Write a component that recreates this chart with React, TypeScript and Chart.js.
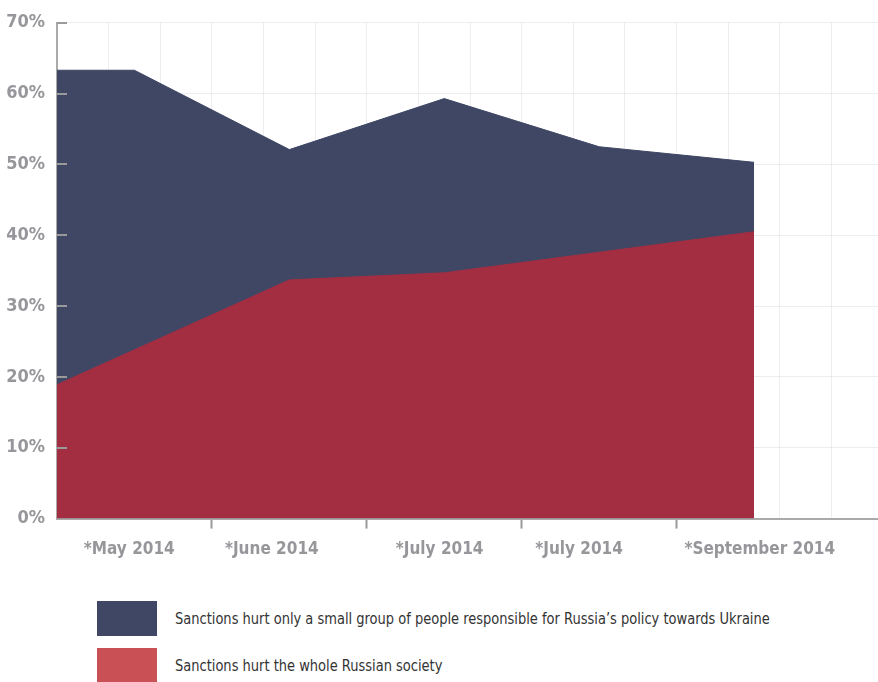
import React, { useEffect, useRef } from "react";
import { Chart, registerables } from "chart.js";

Chart.register(...registerables);

// X positions are in grid units (one vertical grid line per unit)
const smallGroupX = [0, 1.5, 4.5, 7.5, 10.5, 13.5];
const smallGroupY = [63.3, 63.3, 52.1, 59.3, 52.5, 50.3];
const wholeSocietyX = [0, 4.5, 7.5, 10.5, 13.5];
const wholeSocietyY = [18.9, 33.7, 34.7, 37.6, 40.5];

const xLabelPositions = [1.4, 4.16, 7.41, 10.11, 13.61];
const xLabels = ["*May 2014", "*June 2014", "*July 2014", "*July 2014", "*September 2014"];
const majorTicks = [3, 6, 9, 12];
const yTicks = [0, 10, 20, 30, 40, 50, 60, 70];

const seriesNames = [
  "Sanctions hurt only a small group of people responsible for Russia\u2019s policy towards Ukraine",
  "Sanctions hurt the whole Russian society",
];

const BLUE = "#3f4764";
const RED = "#a32e42";
const LEGEND_RED = "#c95055";
const GRID = "rgba(203,203,210,0.33)";
const AXIS = "#aaaaaa";
const LABEL = "#96969b";
const FONT = "'DejaVu Sans Condensed', 'Liberation Sans Narrow', sans-serif";

const innerTicks = {
  id: "innerTicks",
  afterDraw(chart: any) {
    const y = chart.scales.y;
    const ctx = chart.ctx;
    ctx.save();
    ctx.strokeStyle = "#9a9a9a";
    ctx.lineWidth = 2;
    y.ticks.forEach((t: any, i: number) => {
      if (t.value === 0) return;
      const py = Math.round(y.getPixelForTick(i));
      ctx.beginPath();
      ctx.moveTo(chart.chartArea.left, py);
      ctx.lineTo(chart.chartArea.left + 10, py);
      ctx.stroke();
    });
    ctx.restore();
  },
};

export default function App() {
  const ref = useRef<HTMLCanvasElement>(null);

  useEffect(() => {
    document.body.style.margin = "0";
    const chart = new Chart(ref.current!, {
      type: "line",
      data: {
        datasets: [
          {
            label: seriesNames[1],
            data: wholeSocietyX.map((x, i) => ({ x, y: wholeSocietyY[i] })),
            backgroundColor: RED,
            borderColor: RED,
            borderWidth: 1,
            fill: "origin",
            pointRadius: 0,
            tension: 0,
          },
          {
            label: seriesNames[0],
            data: smallGroupX.map((x, i) => ({ x, y: smallGroupY[i] })),
            backgroundColor: BLUE,
            borderColor: BLUE,
            borderWidth: 1,
            fill: "origin",
            pointRadius: 0,
            tension: 0,
          },
        ],
      },
      options: {
        animation: false,
        responsive: false,
        maintainAspectRatio: false,
        layout: { padding: { top: 15, right: 0, bottom: 19, left: 0 } },
        plugins: { legend: { display: false }, tooltip: { enabled: false } },
        scales: {
          x: {
            type: "linear",
            min: 0,
            max: 15.9,
            z: 1,
            afterBuildTicks: (scale: any) => {
              const vals: number[] = [];
              for (let i = 0; i <= 15; i++) vals.push(i);
              xLabelPositions.forEach((p) => vals.push(p));
              vals.sort((a, b) => a - b);
              scale.ticks = vals.map((v) => ({ value: v }));
            },
            ticks: {
              autoSkip: false,
              maxRotation: 0,
              minRotation: 0,
              padding: 11,
              color: LABEL,
              font: { family: FONT, size: 17, weight: "bold" },
              callback: (v: any) => {
                const idx = xLabelPositions.indexOf(Number(v));
                return idx >= 0 ? xLabels[idx] : "";
              },
            },
            grid: {
              color: (ctx: any) => {
                const v = ctx.tick ? ctx.tick.value : -1;
                return Number.isInteger(v) && v > 0 ? GRID : "rgba(0,0,0,0)";
              },
              tickColor: (ctx: any) => {
                const v = ctx.tick ? ctx.tick.value : -1;
                return majorTicks.includes(v) ? "#9a9a9a" : "rgba(0,0,0,0)";
              },
              tickLength: 10,
              tickWidth: 2,
              lineWidth: 1,
            },
            border: { color: AXIS, width: 2 },
          },
          y: {
            min: 0,
            max: 70,
            z: 1,
            afterBuildTicks: (scale: any) => {
              scale.ticks = yTicks.map((v) => ({ value: v }));
            },
            afterFit: (scale: any) => {
              scale.width = 57;
            },
            ticks: {
              padding: 12,
              color: LABEL,
              font: { family: FONT, size: 18, weight: "bold" },
              callback: (v: any) => v + "%",
            },
            grid: {
              color: (ctx: any) => (ctx.tick && ctx.tick.value > 0 ? GRID : "rgba(0,0,0,0)"),
              drawTicks: false,
            },
            border: { color: AXIS, width: 2 },
          },
        },
      },
      plugins: [innerTicks],
    });
    return () => chart.destroy();
  }, []);

  const legendColors = [BLUE, LEGEND_RED];

  return (
    <div style={{ width: 878, height: 682, position: "relative", background: "#fff" }}>
      <div style={{ width: 878, height: 590 }}>
        <canvas ref={ref} width={878} height={590} style={{ display: "block" }} />
      </div>
      <div style={{ paddingTop: 11 }}>
        {seriesNames.map((name, i) => (
          <div
            key={i}
            style={{ display: "flex", alignItems: "center", height: 35, marginBottom: 12, paddingLeft: 97 }}
          >
            <div style={{ width: 60, height: 35, background: legendColors[i], flexShrink: 0 }} />
            <span
              style={{
                marginLeft: 18,
                fontFamily: FONT,
                fontSize: 16,
                color: "#333",
                whiteSpace: "nowrap",
                display: "inline-block",
                transform: "scaleX(0.905)",
                transformOrigin: "left center",
              }}
            >
              {name}
            </span>
          </div>
        ))}
      </div>
    </div>
  );
}
